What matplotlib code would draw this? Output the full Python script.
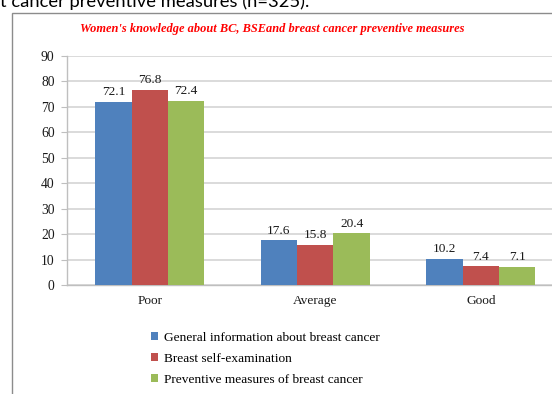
import matplotlib
matplotlib.use("Agg")
import matplotlib.pyplot as plt
import numpy as np
from matplotlib.patches import Rectangle

categories = ["Poor", "Average", "Good"]
series_names = ["General information about breast cancer",
                "Breast self-examination",
                "Preventive measures of breast cancer"]
general_info = [72.1, 17.6, 10.2]
bse = [76.8, 15.8, 7.4]
preventive = [72.4, 20.4, 7.1]
yticks = [0, 10, 20, 30, 40, 50, 60, 70, 80, 90]

colors = ["#4f81bd", "#c0504d", "#9bbb59"]
W, H = 552, 394
fig = plt.figure(figsize=(W/100, H/100), dpi=100)
fig.patch.set_facecolor("white")

# outer chart frame
fig.patches.append(Rectangle((12/W, -0.05), 1.1, 1 - 13/H + 0.05, transform=fig.transFigure,
                             fill=False, edgecolor="#8c8c8c", linewidth=1.0))
# cropped caption at top
fig.text(0/W, 1 - 7/H, "t cancer preventive measures (n=325).", fontsize=13.2,
         family="Lato", color="black", va="baseline", ha="left")

ax = fig.add_axes([67/W, 1 - 285/H, 496.5/W, (285 - 56)/H])
x = np.arange(len(categories))
bw = 0.22
serif = "Liberation Serif"
for i, (vals, name) in enumerate(zip([general_info, bse, preventive], series_names)):
    pos = x + (i - 1) * bw
    ax.bar(pos, vals, width=bw, color=colors[i], label=name, zorder=3, linewidth=0)
    for p, v in zip(pos, vals):
        ax.text(p, v + 1.4, f"{v}", ha="center", va="bottom", fontsize=9.6,
                family=serif, color="#1a1a1a")

ax.set_xlim(-0.5, 2.5)
ax.set_ylim(0, 90)
ax.set_yticks(yticks)
ax.yaxis.grid(True, color="#d4d4d4", linewidth=1.2, zorder=0)
ax.set_axisbelow(True)
for s in ["top", "right"]:
    ax.spines[s].set_visible(False)
ax.spines["left"].set_color("#bfbfbf")
ax.spines["bottom"].set_color("#bfbfbf")
ax.spines["left"].set_linewidth(1.0)
ax.spines["bottom"].set_linewidth(1.0)
ax.tick_params(axis="y", length=4, color="#bfbfbf", labelsize=9.8, pad=5, labelcolor="#1a1a1a")
ax.tick_params(axis="x", length=0, labelsize=9.6, pad=7, labelcolor="#1a1a1a")
ax.set_xticks(x)
ax.set_xticklabels(categories)
for lab in ax.get_xticklabels() + ax.get_yticklabels():
    lab.set_family(serif)

fig.text(272/W, 1 - 29/H, "Women's knowledge about BC, BSEand breast cancer preventive measures",
         ha="center", va="center", fontsize=8.9, color="#ff0000", style="italic",
         weight="bold", family=serif)

fig.legend(loc="upper left", bbox_to_anchor=(151/W, 1 - 332/H), frameon=False,
           prop={"family": serif, "size": 9.6}, handlelength=0.55, handleheight=0.55,
           handletextpad=0.4, labelspacing=0.68, borderaxespad=0, borderpad=0)

fig.savefig("out.png", dpi=100)
